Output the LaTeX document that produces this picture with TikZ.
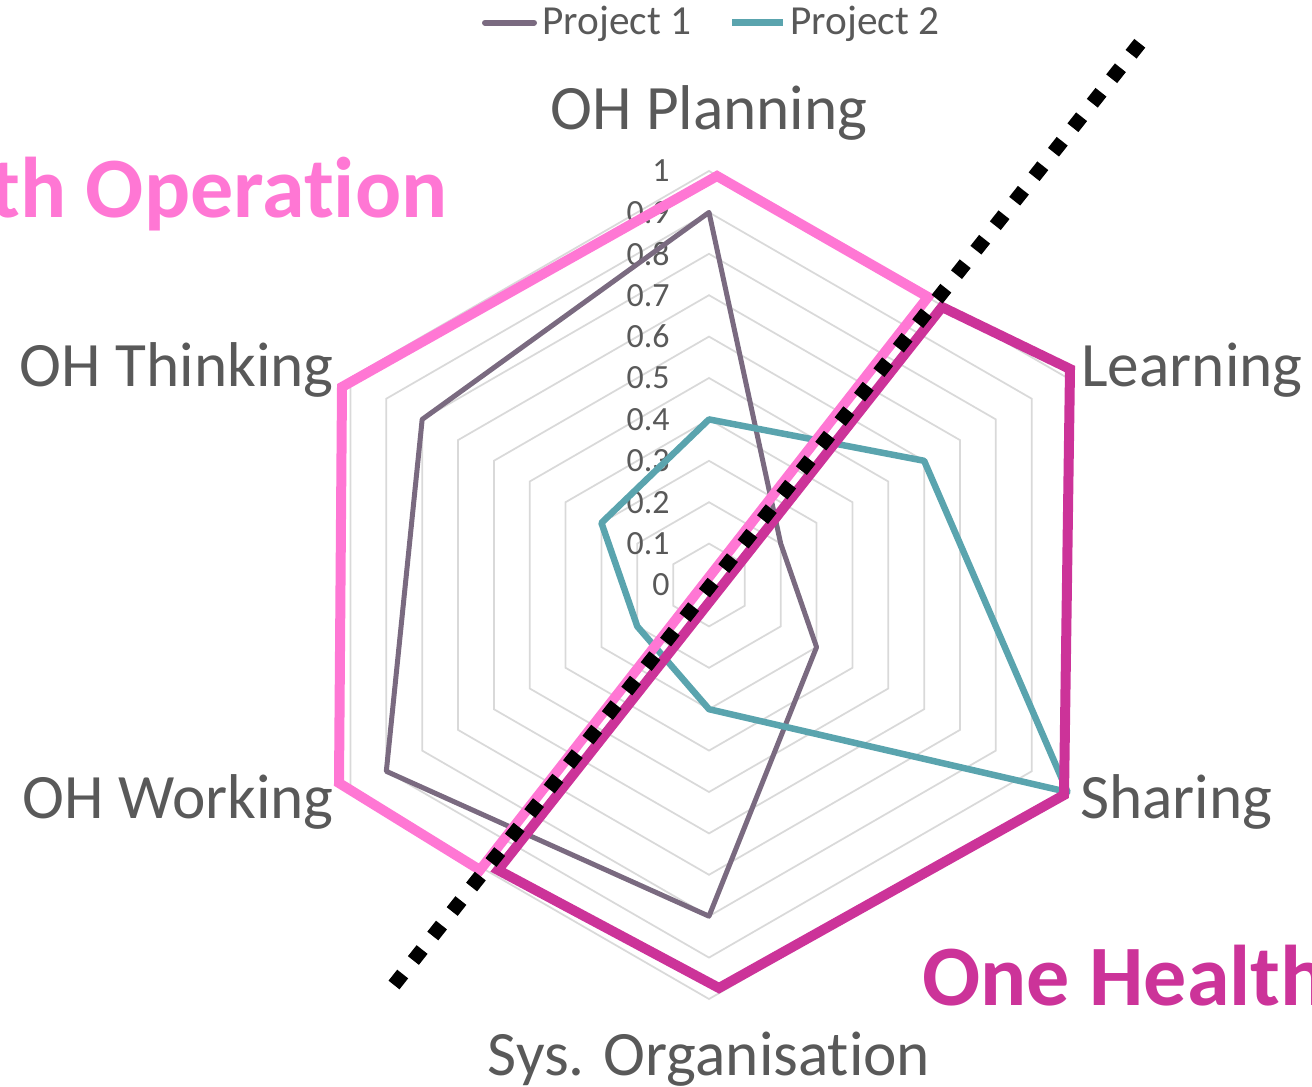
\documentclass[tikz,border=0pt]{standalone}
\usepackage{fontspec}
\setmainfont{Carlito}[Ligatures={NoCommon,NoContextual}]
\usetikzlibrary{positioning}

\definecolor{projone}{RGB}{122,106,128}
\definecolor{projtwo}{RGB}{90,164,174}
\definecolor{ohpink}{RGB}{255,119,212}
\definecolor{ohmagenta}{RGB}{204,51,153}
\definecolor{labelgray}{RGB}{89,89,89}
\definecolor{gridgray}{RGB}{217,217,217}

\begin{document}
\begin{tikzpicture}[x=0.02cm, y=-0.02cm,
    axislabel/.style={text=labelgray, inner sep=0pt, font=\fontsize{36}{40}\selectfont},
    ticklabel/.style={text=labelgray, inner sep=0pt, anchor=east, font=\fontsize{19.3}{22}\selectfont},
    legendlabel/.style={text=labelgray, inner sep=0pt, anchor=base west, font=\fontsize{23.5}{26}\selectfont},
    biglabel/.style={inner sep=0pt, anchor=base west, font=\fontsize{49}{56}\selectfont\bfseries},
    gridline/.style={draw=gridgray, line width=0.035cm},
    projoneline/.style={draw=projone, line width=0.1cm, line join=round},
    projtwoline/.style={draw=projtwo, line width=0.13cm, line join=round},
    halfline/.style={line width=0.2cm, line join=miter},
    divider/.style={draw=black, line width=0.28cm, dash pattern=on 0.28cm off 0.345cm}]
    \useasboundingbox (0,0) rectangle (1312,1087);
    \clip (0,0) rectangle (1312,1087);

    % radar grid, tick labels and the two projects
    \begin{scope}[shift={(709,585)}, x=0.02cm, y=0.02cm]
        \foreach \r in {1,...,10}
            \draw[gridline] (90:41.4*\r) -- (30:41.4*\r) -- (-30:41.4*\r) -- (-90:41.4*\r) -- (-150:41.4*\r) -- (150:41.4*\r) -- cycle;
        \foreach \t/\lab in {0/0, 1/0.1, 2/0.2, 3/0.3, 4/0.4, 5/0.5, 6/0.6, 7/0.7, 8/0.8, 9/0.9, 10/1}
            \node[ticklabel] (tick\t) at (-39, 41.4*\t) {\lab};
        \foreach \v [count=\i from 0] in {0.9,0.2,0.3,0.8,0.9,0.8}
            \coordinate (pa\i) at (90-60*\i:414*\v);
        \foreach \v [count=\i from 0] in {0.4,0.6,1,0.3,0.2,0.3}
            \coordinate (pb\i) at (90-60*\i:414*\v);
        \draw[projoneline] (pa0) -- (pa1) -- (pa2) -- (pa3) -- (pa4) -- (pa5) -- cycle;
        \draw[projtwoline] (pb0) -- (pb1) -- (pb2) -- (pb3) -- (pb4) -- (pb5) -- cycle;
    \end{scope}

    % axis labels
    \node[axislabel, anchor=base] (planning) at (709,130) {OH Planning};
    \node[axislabel, anchor=base west] (learning) at (1081,387) {Learning};
    \node[axislabel, anchor=base west] (sharing) at (1080,818) {Sharing};
    \node[axislabel, anchor=base] (sysorg) at (709,1075) {Sys. Organisation};
    \node[axislabel, anchor=base east] (working) at (334,818) {OH Working};
    \node[axislabel, anchor=base east] (thinking) at (334,387) {OH Thinking};

    % the two halves
    \coordinate (op-low) at (480,870);
    \coordinate (op-work) at (339,783);
    \coordinate (op-think) at (342,387);
    \coordinate (op-plan) at (717,176);
    \coordinate (op-cut) at (928,297);
    \coordinate (in-cut) at (942,307);
    \coordinate (in-learn) at (1070,369);
    \coordinate (in-share) at (1064,795);
    \coordinate (in-sys) at (719,988);
    \coordinate (in-low) at (498,870);
    \draw[halfline, draw=ohpink] (op-low) -- (op-work) -- (op-think) -- (op-plan) -- (op-cut) -- cycle;
    \draw[halfline, draw=ohmagenta] (in-low) -- (in-cut) -- (in-learn) -- (in-share) -- (in-sys) -- cycle;

    \coordinate (cut-low) at (394,985);
    \coordinate (cut-high) at (1140,43);
    \draw[divider] (cut-low) -- (cut-high);

    \node[biglabel, text=ohpink] (operation) at (-10,218) {th Operation};
    \node[biglabel, text=ohmagenta] (onehealth) at (922,1005) {One Health};

    % legend
    \coordinate (legone-a) at (485,22.7);
    \coordinate (legone-b) at (534,22.7);
    \coordinate (legtwo-a) at (732,22.7);
    \coordinate (legtwo-b) at (783,22.7);
    \draw[draw=projone, line width=0.12cm, line cap=round] (legone-a) -- (legone-b);
    \draw[draw=projtwo, line width=0.14cm] (legtwo-a) -- (legtwo-b);
    \node[legendlabel] (legone) at (542,35) {Project 1};
    \node[legendlabel] (legtwo) at (790,35) {Project 2};
\end{tikzpicture}
\end{document}
